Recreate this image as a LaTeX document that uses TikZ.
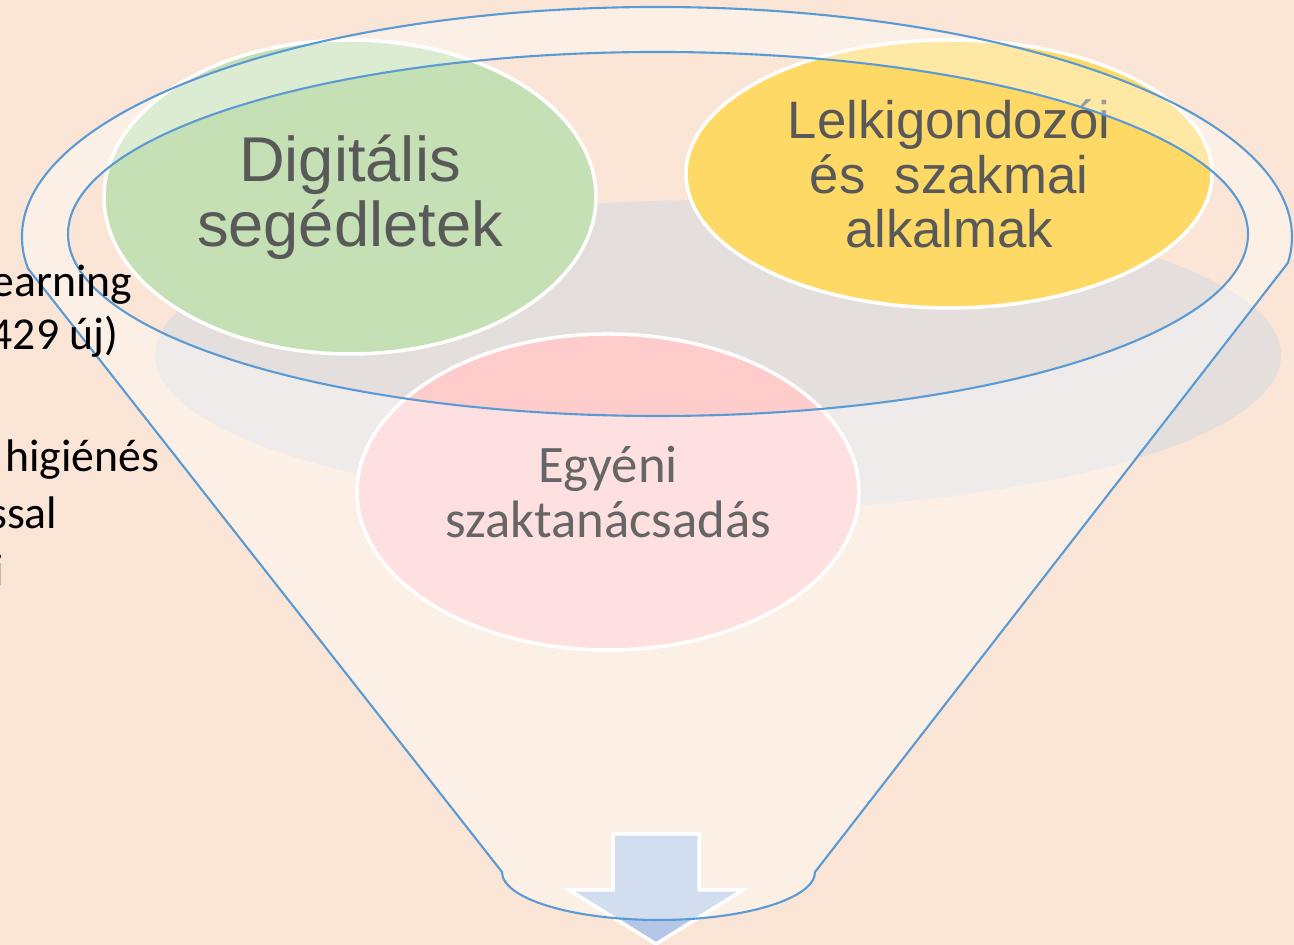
\documentclass[tikz,border=0pt]{standalone}
\usepackage{fontspec}
\setmainfont{Liberation Sans}
\newfontfamily\calibri{Carlito}
\usetikzlibrary{shapes.geometric}

\definecolor{bgpeach}{HTML}{FBE5D6}
\definecolor{shadowgray}{HTML}{E4DEDD}
\definecolor{digigreen}{HTML}{C5E0B4}
\definecolor{lelkiyellow}{HTML}{FFD966}
\definecolor{egyenipink}{HTML}{FFCCCC}
\definecolor{arrowblue}{HTML}{B4C7E7}
\definecolor{funnelblue}{HTML}{5B9BD5}
\definecolor{textgray}{HTML}{595959}

\begin{document}
\begin{tikzpicture}[
    bubble/.style={ellipse, draw=white, line width=1pt, inner sep=0pt, align=center},
    sidetext/.style={anchor=base east, inner sep=0pt, font=\calibri\fontsize{13}{16}\selectfont}
  ]
  \fill[bgpeach] (0,0) rectangle (12.94,9.45);
  \useasboundingbox (0,0) rectangle (12.94,9.45);

  % shadow and the three bubbles
  \fill[shadowgray] (7.18,5.90) ellipse[x radius=5.63, y radius=1.55];
  \node[bubble, fill=digigreen, minimum width=4.92cm, minimum height=3.14cm,
        text=textgray, font=\fontsize{18}{18.5}\selectfont] (digital) at (3.50,7.48) {Digitális\\segédletek};
  \node[bubble, fill=lelkiyellow, minimum width=5.26cm, minimum height=2.68cm,
        text=textgray, font=\fontsize{15}{15.6}\selectfont] (lelki) at (9.49,7.71) {Lelkigondozói\\és\ \ szakmai\\alkalmak};
  \node[bubble, fill=egyenipink, minimum width=5.02cm, minimum height=3.16cm,
        text=black, font=\calibri\fontsize{15}{15.6}\selectfont] (egyeni) at (6.08,4.53) {Egyéni\\szaktanácsadás};

  % arrow out of the funnel
  \draw[white, line width=1pt, fill=arrowblue] (6.13,1.11) -- (6.99,1.11) -- (6.99,0.55) -- (7.43,0.55)
    -- (6.56,0.01) -- (5.69,0.55) -- (6.13,0.55) -- cycle;

  % funnel
  \draw[funnelblue, line width=0.6pt, fill=white, fill opacity=0.4, even odd rule]
    (6.57,7.08) ++(187.9:6.35 and 2.30)
    arc[start angle=187.9, end angle=-6.44, x radius=6.35, y radius=2.30]
    -- (8.15,0.73) arc[start angle=0, end angle=-180, x radius=1.565, y radius=0.48] -- cycle
    (6.58,7.11) ellipse[x radius=5.90, y radius=1.82];

  \node[sidetext] (earning) at (1.33,6.48) {earning};
  \node[sidetext] (ujszam) at (1.19,5.95) {429 új)};
  \node[sidetext] (higienes) at (1.60,4.73) {higiénés};
  \node[sidetext] (ssal) at (0.58,4.16) {ssal};
  \node[sidetext] (ivege) at (0.05,3.59) {i};
\end{tikzpicture}
\end{document}
